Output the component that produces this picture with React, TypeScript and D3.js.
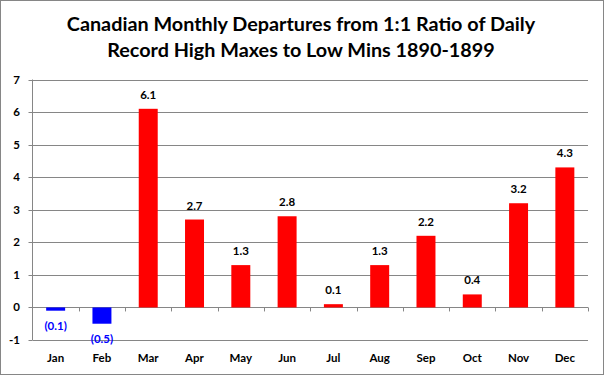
import React from "react";
import * as d3 from "d3";

const months = ["Jan", "Feb", "Mar", "Apr", "May", "Jun", "Jul", "Aug", "Sep", "Oct", "Nov", "Dec"];
const values = [-0.1, -0.5, 6.1, 2.7, 1.3, 2.8, 0.1, 1.3, 2.2, 0.4, 3.2, 4.3];
const yTicks = [-1, 0, 1, 2, 3, 4, 5, 6, 7];
const titleLines = [
  "Canadian Monthly Departures from 1:1 Ratio of Daily",
  "Record High Maxes to Low Mins 1890-1899",
];

const W = 604;
const H = 375;
const FONT = "Lato, 'Open Sans', sans-serif";

export default function App() {
  const left = 32.5;
  const right = 588;
  const y = d3.scaleLinear().domain([-1, 7]).range([340, 79.5]);
  const x = d3.scaleBand<string>().domain(months).range([left, right]).paddingInner(0.59).paddingOuter(0.295);
  const band = d3.scaleBand<string>().domain(months).range([left, right]);
  const fmt = (v: number) => (v < 0 ? `(${Math.abs(v).toFixed(1)})` : v.toFixed(1));

  return (
    <svg width={W} height={H} style={{ position: "absolute", left: 0, top: 0 }} fontFamily={FONT}>
      <rect x={0.5} y={0.5} width={W - 1} height={H - 1} fill="#fff" stroke="#868686" />
      {titleLines.map((t, i) => (
        <text key={i} x={W / 2 - 1} y={31 + i * 26} textAnchor="middle" fontSize={19.8} fontWeight="bold" fill="#000">
          {t}
        </text>
      ))}
      {yTicks.map((t) => (
        <g key={t}>
          <line x1={left} x2={right} y1={Math.round(y(t)) + 0.5} y2={Math.round(y(t)) + 0.5} stroke="#868686" strokeWidth={1} />
          <line x1={left - 4} x2={left} y1={Math.round(y(t)) + 0.5} y2={Math.round(y(t)) + 0.5} stroke="#868686" />
          <text x={20} y={y(t)} dy="0.35em" textAnchor="end" fontSize={11.5} fontWeight="bold" fill="#000">
            {t}
          </text>
        </g>
      ))}
      <line x1={left} x2={left} y1={y(7)} y2={y(-1)} stroke="#868686" />
      {months.map((m) => (
        <line key={m} x1={Math.round(band(m)! + band.bandwidth()) + 0.5} x2={Math.round(band(m)! + band.bandwidth()) + 0.5} y1={y(0)} y2={y(0) + 4} stroke="#868686" />
      ))}
      {values.map((v, i) => {
        const m = months[i];
        const top = Math.min(y(v), y(0));
        const h = Math.abs(y(v) - y(0));
        return <rect key={m} x={x(m)} y={top} width={x.bandwidth()} height={h} fill={v < 0 ? "#0000FF" : "#FF0000"} />;
      })}
      {values.map((v, i) => {
        const m = months[i];
        const cx = x(m)! + x.bandwidth() / 2;
        return v < 0 ? (
          <text key={m} x={cx} y={y(v) + 19} textAnchor="middle" fontSize={11.5} fontWeight="bold" fill="#0000FF">
            {fmt(v)}
          </text>
        ) : (
          <text key={m} x={cx} y={y(v) - 10} textAnchor="middle" fontSize={11.5} fontWeight="bold" fill="#000">
            {fmt(v)}
          </text>
        );
      })}
      {months.map((m) => (
        <text key={m} x={x(m)! + x.bandwidth() / 2} y={362} textAnchor="middle" fontSize={11.5} fontWeight="bold" fill="#000">
          {m}
        </text>
      ))}
    </svg>
  );
}
